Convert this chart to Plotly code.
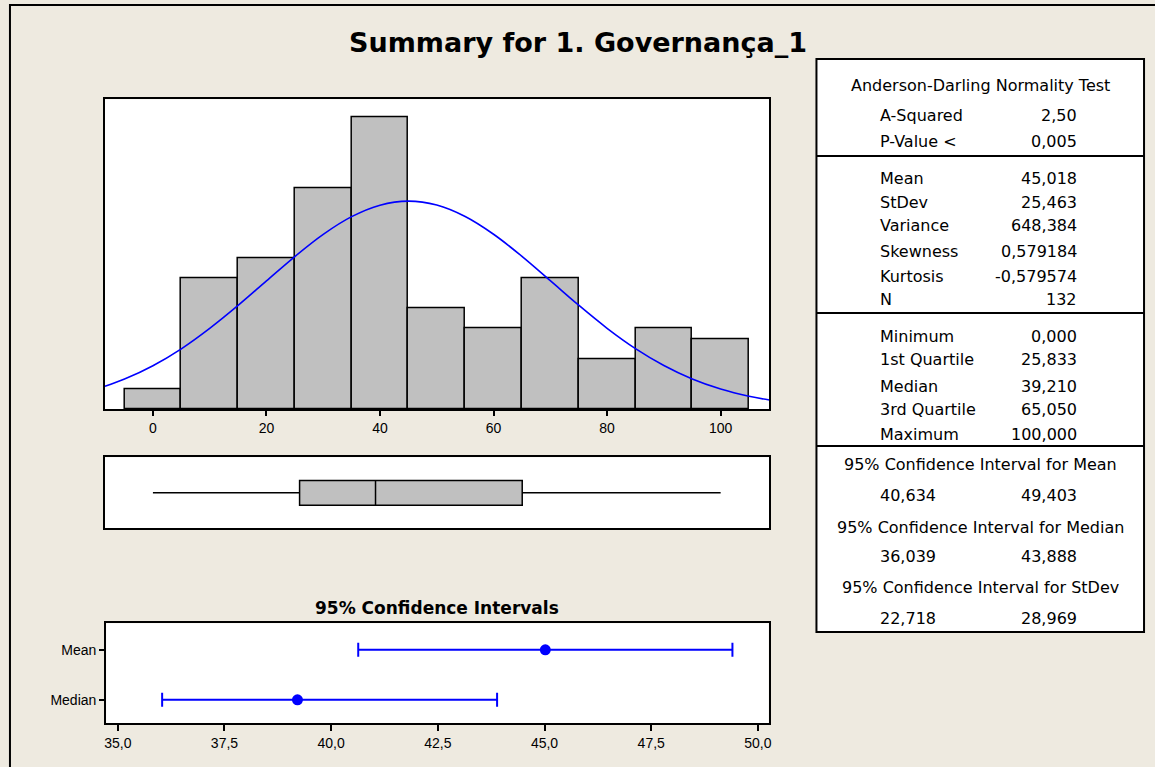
import plotly.graph_objects as go

W, H = 1155, 767

TITLE = "Summary for 1. Governança_1"

# Histogram (bin centres, counts)
BIN_CENTERS = [0, 10, 20, 30, 40, 50, 60, 70, 80, 90, 100]
BIN_COUNTS = [2, 13, 15, 22, 29, 10, 8, 13, 5, 8, 7]
BIN_WIDTH = 10
HIST_TICKS = [0, 20, 40, 60, 80, 100]

# Fitted normal curve (counts scale)
NORMAL_X = [-8.45, -5, 0, 5, 10, 15, 20, 25, 30, 35, 40, 45, 50, 55, 60, 65, 70,
            75, 80, 85, 90, 95, 100, 105, 108.6]
NORMAL_Y = [2.28, 3.00, 4.33, 6.01, 8.04, 10.32, 12.76, 15.18, 17.38, 19.14, 20.28,
            20.68, 20.29, 19.15, 17.39, 15.20, 12.78, 10.34, 8.05, 6.03, 4.35, 3.01,
            2.01, 1.29, 0.92]

# Boxplot statistics
BOX_MIN = 0.0
BOX_Q1 = 25.833
BOX_MEDIAN = 39.210
BOX_Q3 = 65.050
BOX_MAX = 100.0

# 95% confidence intervals
CI_LABELS = ["Median", "Mean"]
CI_POINT = [39.210, 45.018]
CI_LOW = [36.039, 40.634]
CI_HIGH = [43.888, 49.403]
CI_TICKS = [35.0, 37.5, 40.0, 42.5, 45.0, 47.5, 50.0]
CI_TICK_TEXT = ["35,0", "37,5", "40,0", "42,5", "45,0", "47,5", "50,0"]

# Summary table
AD_TITLE = "Anderson-Darling Normality Test"
AD_LABELS = ["A-Squared", "P-Value <"]
AD_VALUES = ["2,50", "0,005"]
MOM_LABELS = ["Mean", "StDev", "Variance", "Skewness", "Kurtosis", "N"]
MOM_VALUES = ["45,018", "25,463", "648,384", "0,579184", "-0,579574", "132"]
QUANT_LABELS = ["Minimum", "1st Quartile", "Median", "3rd Quartile", "Maximum"]
QUANT_VALUES = ["0,000", "25,833", "39,210", "65,050", "100,000"]
CI_TITLES = ["95% Confidence Interval for Mean",
             "95% Confidence Interval for Median",
             "95% Confidence Interval for StDev"]
CI_TABLE_LOW = ["40,634", "36,039", "22,718"]
CI_TABLE_HIGH = ["49,403", "43,888", "28,969"]

BG = "#EEEAE0"
BAR = "#C0C0C0"
BLUE = "#0000FF"
TICK_FONT = dict(family="Liberation Sans, Arial, sans-serif", size=14, color="black")
TABLE_FONT = dict(family="DejaVu Sans, Verdana, sans-serif", size=16, color="black")


def px(x):
    return x / W


def py(y):
    return 1 - y / H


fig = go.Figure()

# Histogram
fig.add_trace(go.Bar(x=BIN_CENTERS, y=BIN_COUNTS, width=BIN_WIDTH,
                     marker=dict(color=BAR, line=dict(color="black", width=1.5)),
                     xaxis="x", yaxis="y", showlegend=False, hoverinfo="x+y"))
fig.add_trace(go.Scatter(x=NORMAL_X, y=NORMAL_Y, mode="lines",
                         line=dict(color=BLUE, width=1.6, shape="spline"),
                         xaxis="x", yaxis="y", showlegend=False))

# Boxplot
fig.add_trace(go.Box(y=[0], q1=[BOX_Q1], median=[BOX_MEDIAN], q3=[BOX_Q3],
                     lowerfence=[BOX_MIN], upperfence=[BOX_MAX], orientation="h",
                     width=1.0, whiskerwidth=0, fillcolor=BAR,
                     line=dict(color="black", width=1.5),
                     xaxis="x2", yaxis="y2", showlegend=False))

# Confidence intervals
fig.add_trace(go.Scatter(
    x=CI_POINT, y=[0, 1], mode="markers",
    marker=dict(color=BLUE, size=11, symbol="circle"),
    error_x=dict(type="data", symmetric=False,
                 array=[h - p for h, p in zip(CI_HIGH, CI_POINT)],
                 arrayminus=[p - l for p, l in zip(CI_POINT, CI_LOW)],
                 color=BLUE, thickness=2, width=7),
    xaxis="x3", yaxis="y3", showlegend=False))

frame = dict(showline=True, mirror=True, linecolor="black", linewidth=2,
             showgrid=False, zeroline=False)

hist_dom_x = [px(103.4), px(770.8)]
fig.update_layout(
    width=W, height=H, autosize=False,
    margin=dict(l=0, r=0, t=0, b=0),
    paper_bgcolor=BG, plot_bgcolor="white",
    bargap=0, showlegend=False,
    xaxis=dict(domain=hist_dom_x, range=[-8.45, 108.6], anchor="y",
               tickvals=HIST_TICKS, ticks="outside", ticklen=5, tickwidth=1.5,
               tickcolor="black", tickfont=TICK_FONT, **frame),
    yaxis=dict(domain=[py(409.3), py(99.3)], range=[0, 30.8], anchor="x",
               showticklabels=False, ticks="", **frame),
    xaxis2=dict(domain=hist_dom_x, range=[-8.45, 108.6], anchor="y2",
                showticklabels=False, ticks="", **frame),
    yaxis2=dict(domain=[py(528.3), py(457.3)], range=[-1.44, 1.44], anchor="x2",
                showticklabels=False, ticks="", **frame),
    xaxis3=dict(domain=[px(104.6), px(770)], range=[34.727, 50.252], anchor="y3",
                tickvals=CI_TICKS, ticktext=CI_TICK_TEXT, ticks="outside", ticklen=6,
                tickwidth=1.5, tickcolor="black", tickfont=TICK_FONT, **frame),
    yaxis3=dict(domain=[py(723.3), py(623.3)], range=[-0.47, 1.53], anchor="x3",
                tickvals=[0, 1], ticktext=CI_LABELS, ticks="outside", ticklen=5,
                tickwidth=1.5, tickcolor="black", tickfont=TICK_FONT, **frame),
)

shapes = []
# outer frame
shapes.append(dict(type="rect", xref="paper", yref="paper",
                   x0=px(8), x1=px(1175), y0=py(790), y1=py(5),
                   line=dict(color="black", width=2), fillcolor="rgba(0,0,0,0)",
                   layer="below"))
# table box
TX0, TX1, TY0, TY1 = 818, 1147, 59, 632
shapes.append(dict(type="rect", xref="paper", yref="paper",
                   x0=px(TX0), x1=px(TX1), y0=py(TY1), y1=py(TY0),
                   line=dict(color="black", width=2), fillcolor="white"))
for yl in [156, 313, 446]:
    shapes.append(dict(type="line", xref="paper", yref="paper",
                       x0=px(TX0), x1=px(TX1), y0=py(yl), y1=py(yl),
                       line=dict(color="black", width=2)))
fig.update_layout(shapes=shapes)

ann = []
ann.append(dict(text=TITLE, x=px(579), y=py(43), xref="paper", yref="paper",
                showarrow=False, xanchor="center", yanchor="middle",
                font=dict(family="DejaVu Sans, Verdana, sans-serif", size=27,
                          color="black", weight="bold")))
ann.append(dict(text="95% Confidence Intervals", x=px(437), y=py(608),
                xref="paper", yref="paper", showarrow=False,
                xanchor="center", yanchor="middle",
                font=dict(family="DejaVu Sans, Verdana, sans-serif", size=17,
                          color="black", weight="bold")))

LX, RX, CX = 880, 1082, (TX0 + TX1) / 2


def row(label, value, y):
    ann.append(dict(text=label, x=px(LX), y=py(y), xref="paper", yref="paper",
                    showarrow=False, xanchor="left", yanchor="middle", font=TABLE_FONT))
    ann.append(dict(text=value, x=px(RX), y=py(y), xref="paper", yref="paper",
                    showarrow=False, xanchor="right", yanchor="middle", font=TABLE_FONT))


def centre(text, y):
    ann.append(dict(text=text, x=px(CX), y=py(y), xref="paper", yref="paper",
                    showarrow=False, xanchor="center", yanchor="middle", font=TABLE_FONT))


centre(AD_TITLE, 86)
for lab, val, y in zip(AD_LABELS, AD_VALUES, [116, 141]):
    row(lab, val, y)
for lab, val, y in zip(MOM_LABELS, MOM_VALUES, [178, 202, 226, 251, 276, 300]):
    row(lab, val, y)
for lab, val, y in zip(QUANT_LABELS, QUANT_VALUES, [336, 360, 386, 410, 434]):
    row(lab, val, y)
for t, lo, hi, yt, yv in zip(CI_TITLES, CI_TABLE_LOW, CI_TABLE_HIGH,
                             [464, 527, 587], [495, 556, 618]):
    centre(t, yt)
    ann.append(dict(text=lo, x=px(LX), y=py(yv), xref="paper", yref="paper",
                    showarrow=False, xanchor="left", yanchor="middle", font=TABLE_FONT))
    ann.append(dict(text=hi, x=px(RX), y=py(yv), xref="paper", yref="paper",
                    showarrow=False, xanchor="right", yanchor="middle", font=TABLE_FONT))

fig.update_layout(annotations=ann)

fig.write_html(
    "out.html",
    config={"displayModeBar": False},
    post_script="document.body.style.margin='0';document.body.style.padding='0';"
                "document.body.style.overflow='hidden';"
                "document.documentElement.style.overflow='hidden';",
)
